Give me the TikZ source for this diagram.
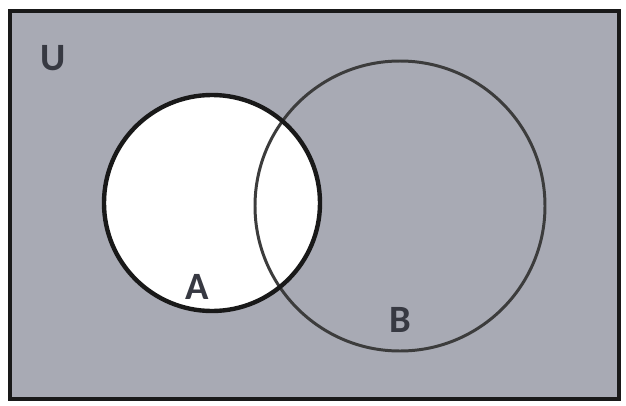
\documentclass[tikz,border=0pt]{standalone}
\usepackage{fontspec}
\setmainfont{Carlito}
\usepackage{xcolor}
\newcommand{\RadA}{108}
\newcommand{\RadB}{145}
\definecolor{UniverseColor}{RGB}{168,170,180}
\definecolor{LabelColor}{RGB}{55,57,66}
\colorlet{EdgeColor}{black!90}

\begin{document}
\begin{tikzpicture}[x=0.02cm, y=-0.02cm,
    setlabel/.style={font=\fontsize{22}{26}\selectfont\bfseries, text=LabelColor, inner sep=0pt}]
		\useasboundingbox (0,0) rectangle (626,406);
		\fill[white] (0,0) rectangle (626,406);
		
		\coordinate (cA) at (212,203);
		\coordinate (cB) at (400,206);
		
		% universe
		\draw[EdgeColor, fill=UniverseColor, line width=2.6pt] (10,11) rectangle (619,399);
		
		% set A is shaded white, B drawn on top
		\fill[white] (cA) circle (\RadA);
		\draw[EdgeColor!85, line width=1.7pt] (cB) circle (\RadB);
		\draw[EdgeColor, line width=2.5pt] (cA) circle (\RadA);
		
		\node[setlabel] (labU) at (53,58) {U};
		\node[setlabel] (labA) at (197,287) {A};
		\node[setlabel] (labB) at (400,320) {B};
	\end{tikzpicture}
\end{document}
